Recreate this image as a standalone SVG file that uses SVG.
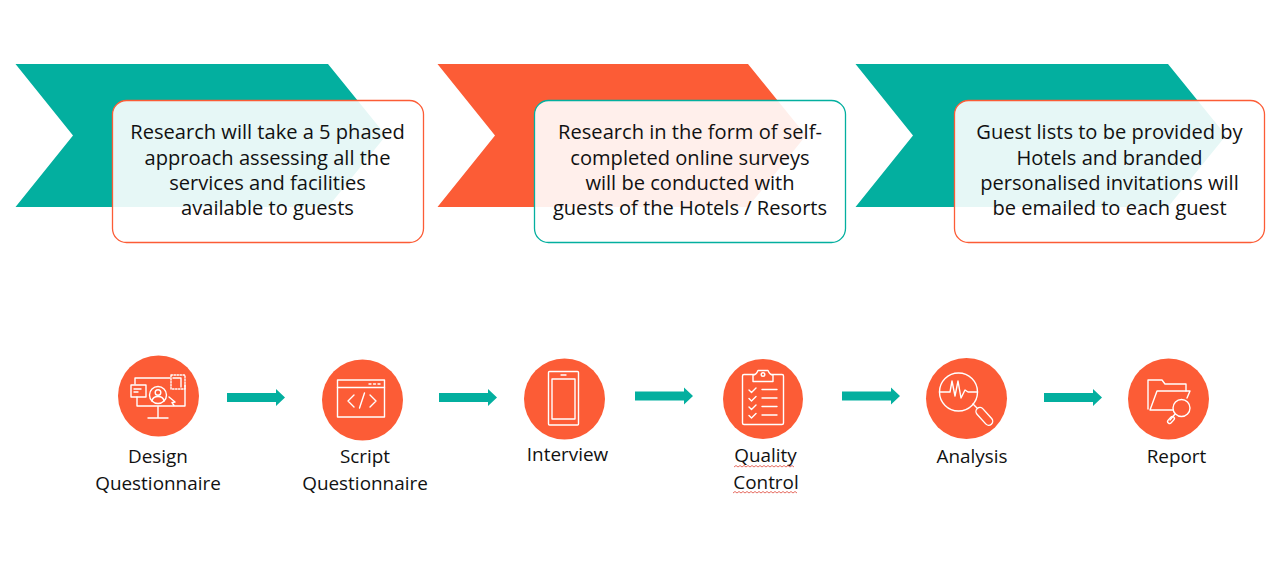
<svg xmlns="http://www.w3.org/2000/svg" width="1275" height="568" viewBox="0 0 1275 568">
<style>
text{font-family:"Open Sans","Noto Sans","Liberation Sans",sans-serif;font-size:20.1px;fill:#111;text-anchor:middle}
.lbl{font-size:18.9px}
.box{fill:#fff;fill-opacity:.9;stroke-width:1.3}
.t{fill:#03af9f}.o{fill:#fc5c36}
.ic{fill:none;stroke:#fff;stroke-width:1.4;stroke-linejoin:round;stroke-linecap:round}
</style>
<defs>
<path id="arr" d="M0-4.500H49V-8.500L58 0 49 8.500V4.500H0Z" class="t"/>
</defs>
<g id="phase1">
<path class="t" d="M15.500 64H328L386 135.500 328 207H15.500L73 135.500Z"/>
<rect class="box" x="112.500" y="100.500" width="311" height="142" rx="14" stroke="#fc5c36"/>
<text x="267.500" y="139">Research will take a 5 phased</text>
<text x="267.500" y="164.500">approach assessing all the</text>
<text x="267.500" y="189.500">services and facilities</text>
<text x="267.500" y="214.500">available to guests</text>
</g>
<g id="phase2">
<path class="o" d="M437.500 64H748L806 135.500 748 207H437.500L495 135.500Z"/>
<rect class="box" x="534.500" y="100.500" width="311" height="142" rx="14" stroke="#03af9f"/>
<text x="690" y="139">Research in the form of self-</text>
<text x="690" y="164.500">completed online surveys</text>
<text x="690" y="189.500">will be conducted with</text>
<text x="690" y="214.500">guests of the Hotels / Resorts</text>
</g>
<g id="phase3">
<path class="t" d="M855.500 64H1168L1226 135.500 1168 207H855.500L913 135.500Z"/>
<rect class="box" x="954.500" y="100.500" width="310" height="142" rx="14" stroke="#fc5c36"/>
<text x="1109.500" y="139">Guest lists to be provided by</text>
<text x="1109.500" y="164.500">Hotels and branded</text>
<text x="1109.500" y="189.500">personalised invitations will</text>
<text x="1109.500" y="214.500">be emailed to each guest</text>
</g>
<g id="connectors">
<use href="#arr" x="227" y="397.500"/>
<use href="#arr" x="439" y="397.500"/>
<use href="#arr" x="635" y="396"/>
<use href="#arr" x="842" y="396"/>
<use href="#arr" x="1044" y="397.500"/>
</g>
<g id="design">
<circle class="o" cx="158.500" cy="396" r="40.500"/>
<path class="ic" d="M135 384V378H170M137 397V406H185V385M158 407V418M148 418H168"/>
<rect class="ic" x="131" y="385" width="15" height="12"/>
<path class="ic" d="M134 389H141M134 392H138"/>
<circle class="ic" cx="158" cy="395" r="8.500"/>
<circle class="ic" cx="158" cy="392.500" r="2.800"/>
<path class="ic" d="M152 401C153 395 163 395 164 401"/>
<path class="ic" d="M169 397L175 402 172 402.500 174 405.500"/>
<rect class="ic" x="171" y="375" width="14" height="14" stroke-dasharray="1.500 1.500"/>
<path class="ic" d="M173 378H181V387"/>
<text class="lbl" x="158" y="463">Design</text>
<text class="lbl" x="158" y="490">Questionnaire</text>
</g>
<g id="script">
<circle class="o" cx="362.500" cy="400" r="40.500"/>
<rect class="ic" x="337.500" y="380" width="47" height="37"/>
<path class="ic" d="M337.500 387.500H384.500M369 384H371M373.500 384H375.500M378 384H380"/>
<path class="ic" d="M354 395L348 401 354 407M370 395L376 401 370 407M364.500 393L359.500 408"/>
<text class="lbl" x="365" y="463">Script</text>
<text class="lbl" x="365" y="490">Questionnaire</text>
</g>
<g id="interview">
<circle class="o" cx="564.500" cy="399" r="40.500"/>
<rect class="ic" x="548.500" y="371.500" width="30" height="53.500" rx="1"/>
<rect class="ic" x="552" y="379" width="23" height="40"/>
<path class="ic" d="M561 375H566"/>
<text class="lbl" x="567.500" y="461">Interview</text>
</g>
<g id="quality">
<circle class="o" cx="763" cy="399" r="40"/>
<rect class="ic" x="742.500" y="374.500" width="41" height="50" rx="1.500"/>
<path class="ic" d="M753 381.500V375C756 375 757 373 758 370.500H768C769 373 770 375 773 375V381.500Z" style="fill:#fc5c36"/>
<circle class="ic" cx="763" cy="374.500" r="1.800"/>
<path class="ic" d="M749 390L751.500 392.500 756 388M749 398.500L751.500 401 756 396.500M749 407L751.500 409.500 756 405M749 415.500L751.500 418 756 413.500M762 389.500H777M762 398H777M762 406.500H777M762 415H777"/>
<text class="lbl" x="765.500" y="462">Quality</text>
<text class="lbl" x="766" y="489">Control</text>
<path d="M734 467l2-1.500 2 1.500 2-1.500 2 1.500 2-1.500 2 1.500 2-1.500 2 1.500 2-1.500 2 1.500 2-1.500 2 1.500 2-1.500 2 1.500 2-1.500 2 1.500 2-1.500 2 1.500 2-1.500 2 1.500 2-1.500 2 1.500 2-1.500 2 1.500 2-1.500 2 1.500 2-1.500 2 1.500 2-1.500 2 1.500M733 493l2-1.500 2 1.500 2-1.500 2 1.500 2-1.500 2 1.500 2-1.500 2 1.500 2-1.500 2 1.500 2-1.500 2 1.500 2-1.500 2 1.500 2-1.500 2 1.500 2-1.500 2 1.500 2-1.500 2 1.500 2-1.500 2 1.500 2-1.500 2 1.500 2-1.500 2 1.500 2-1.500 2 1.500 2-1.500 2 1.500 2-1.500 2 1.500" fill="none" stroke="#e0483a" stroke-width=".8"/>
</g>
<g id="analysis">
<circle class="o" cx="966.500" cy="398.500" r="40.500"/>
<circle class="ic" cx="958.500" cy="392" r="19"/>
<path class="ic" d="M939.500 392H950L952 381 955 396 958 381 961 398 965 390 968 392H977.500M973 404L977 408"/>
<rect class="ic" x="974" y="412" width="21" height="8" rx="4" transform="rotate(48 984 416)"/>
<text class="lbl" x="972" y="463">Analysis</text>
</g>
<g id="report">
<circle class="o" cx="1168.500" cy="399" r="40.500"/>
<path class="ic" d="M1148 409V380H1162L1165 384H1186V391"/>
<path class="ic" d="M1150 410L1157 391H1190L1187 398M1150 410H1173"/>
<circle class="ic" cx="1181.500" cy="408" r="8.500"/>
<path class="ic" d="M1175 414L1170 420"/>
<rect class="ic" x="1167" y="418" width="8" height="4" rx="2" transform="rotate(-48 1171 420)"/>
<text class="lbl" x="1176.500" y="463">Report</text>
</g>
</svg>
